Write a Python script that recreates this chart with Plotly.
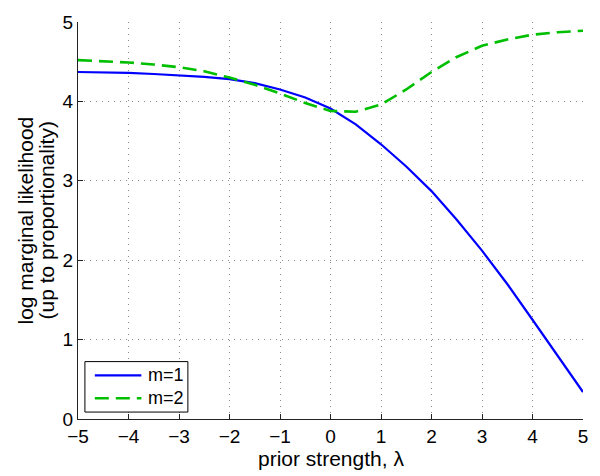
import plotly.graph_objects as go

lam = [-5, -4.5, -4, -3.5, -3, -2.5, -2, -1.5, -1, -0.5, 0, 0.5, 1, 1.5, 2, 2.5, 3, 3.5, 4, 4.5, 5]
m1 = [4.37, 4.365, 4.36, 4.345, 4.33, 4.31, 4.28, 4.23, 4.15, 4.05, 3.91, 3.71, 3.46, 3.18, 2.87, 2.51, 2.12, 1.70, 1.25, 0.80, 0.34]
m2 = [4.52, 4.505, 4.49, 4.465, 4.43, 4.38, 4.30, 4.21, 4.10, 3.98, 3.88, 3.87, 3.96, 4.15, 4.37, 4.56, 4.70, 4.78, 4.84, 4.87, 4.89]
names = ['m=1', 'm=2']
colors = ['#0000ff', '#00bf00']
dashes = ['solid', '14px,7px']
widths = [2.2, 2.6]
ytitle = ['log marginal likelihood', '(up to proportionality)']
xtitle = 'prior strength, λ'

fig = go.Figure()
for ys, nm, col, ds, w in zip([m1, m2], names, colors, dashes, widths):
    fig.add_trace(go.Scatter(x=lam, y=ys, mode='lines', name=nm, showlegend=False,
                             line=dict(color=col, width=w, dash=ds)))

axis_style = dict(showline=True, linecolor='#222222', linewidth=1, mirror=False,
                  ticks='inside', ticklen=5, tickcolor='#222222',
                  showgrid=True, gridcolor='#8a8a8a', griddash='1px,5px', gridwidth=1,
                  zeroline=False, tickfont=dict(size=19, color='black'),
                  ticklabeloverflow='allow')

fig.update_xaxes(range=[-5, 5], dtick=1, ticklabelstandoff=0, **axis_style)
fig.update_yaxes(range=[0, 5], dtick=1, **axis_style)

# titles as annotations so the spacing can be set by hand
for txt, shift in zip(ytitle, [-53, -32]):
    fig.add_annotation(text=txt, xref='paper', yref='paper', x=0, y=0.5,
                       xanchor='center', yanchor='middle', xshift=shift,
                       textangle=-90, showarrow=False, font=dict(size=21, color='black'))
fig.add_annotation(text=xtitle, xref='paper', yref='paper', x=0.5, y=0,
                   xanchor='center', yanchor='middle', yshift=-39,
                   showarrow=False, font=dict(size=21, color='black'))

# matlab style legend box, bottom left
fig.add_shape(type='rect', xref='paper', yref='paper', x0=0.0137, x1=0.2176, y0=0.0175, y1=0.1446,
              line=dict(color='black', width=1), fillcolor='white', layer='above')
for i, (nm, col, ds, w) in enumerate(zip(names, colors, dashes, widths)):
    yy = 0.1097 - i * 0.0573
    fig.add_shape(type='line', xref='paper', yref='paper', x0=0.0333, x1=0.1255, y0=yy, y1=yy,
                  line=dict(color=col, width=w, dash=ds), layer='above')
    fig.add_annotation(text=nm, xref='paper', yref='paper', x=0.1353, y=yy,
                       xanchor='left', yanchor='middle', showarrow=False,
                       font=dict(size=18, color='black'))

fig.update_layout(
    width=600, height=476,
    margin=dict(l=78, r=12, t=18, b=57),
    paper_bgcolor='white', plot_bgcolor='white',
    font=dict(family='Liberation Sans, Arial, sans-serif', color='black'),
)

# drop the default 8px body margin so the figure fills the window exactly
fig.write_html("out.html", config={'displayModeBar': False},
               post_script="document.body.style.margin='0';document.body.style.overflow='hidden';")
